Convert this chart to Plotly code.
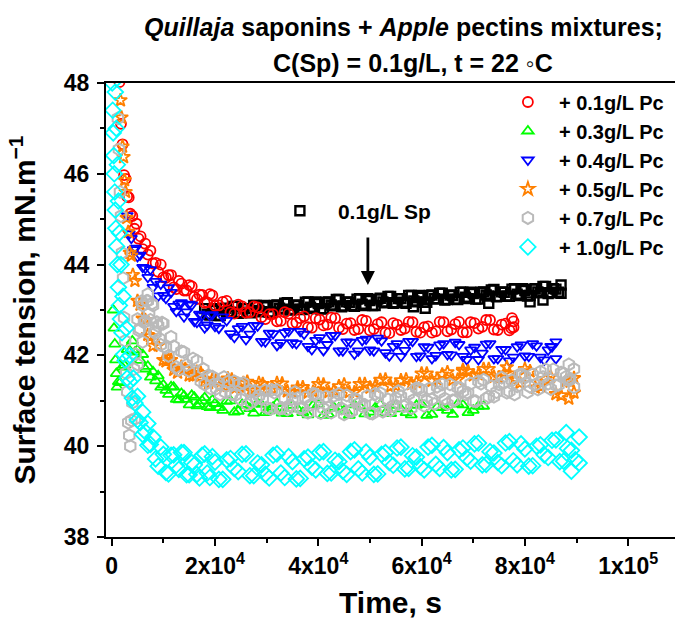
import plotly.graph_objects as go

# ---------------- data ----------------
sp_x = [18000, 19000, 20000, 21000, 22000, 23000, 24000, 25000, 26000, 27000,
        28000, 29000, 30000, 31000, 32000, 33000, 34000, 35000, 36000, 37000,
        38000, 39000, 40000, 41000, 42000, 43000, 44000, 45000, 46000, 47000,
        48000, 49000, 50000, 51000, 52000, 53000, 54000, 55000, 56000, 57000,
        58000, 59000, 60000, 61000, 62000, 63000, 64000, 65000, 66000, 67000,
        68000, 69000, 70000, 71000, 72000, 73000, 74000, 75000, 76000, 77000,
        78000, 79000, 80000, 81000, 82000, 83000, 84000, 85000, 86000, 87000,
        58400, 60700, 73000, 81000, 83500, 87000]
sp_y = [43.03, 42.89, 42.99, 42.88, 43.04, 42.95, 43.08, 42.94, 43.03, 42.94,
        43.10, 42.96, 43.07, 42.95, 43.11, 43.02, 43.16, 43.01, 43.10, 43.01,
        43.18, 43.03, 43.14, 43.03, 43.18, 43.09, 43.23, 43.09, 43.17, 43.08,
        43.25, 43.10, 43.21, 43.10, 43.26, 43.16, 43.30, 43.16, 43.25, 43.15,
        43.32, 43.18, 43.28, 43.17, 43.33, 43.24, 43.37, 43.23, 43.32, 43.23,
        43.39, 43.25, 43.36, 43.24, 43.40, 43.31, 43.45, 43.30, 43.39, 43.30,
        43.47, 43.32, 43.43, 43.32, 43.47, 43.38, 43.52, 43.38, 43.46, 43.37,
        43.07, 43.04, 43.15, 43.18, 43.22, 43.55]
sp_x2 = [18500, 19500, 20500, 21500, 22500, 23500, 24500, 25500, 26500, 27500,
         28500, 29500, 30500, 31500, 32500, 33500, 34500, 35500, 36500, 37500,
         38500, 39500, 40500, 41500, 42500, 43500, 44500, 45500, 46500, 47500,
         48500, 49500, 50500, 51500, 52500, 53500, 54500, 55500, 56500, 57500,
         58500, 59500, 60500, 61500, 62500, 63500, 64500, 65500, 66500, 67500,
         68500, 69500, 70500, 71500, 72500, 73500, 74500, 75500, 76500, 77500,
         78500, 79500, 80500, 81500, 82500, 83500, 84500, 85500, 86500]
sp_y2 = [42.91, 43.03, 42.88, 43.03, 42.96, 43.08, 42.93, 43.03, 42.95, 43.10,
         42.99, 43.10, 42.95, 43.10, 43.04, 43.15, 43.00, 43.11, 43.02, 43.17,
         43.06, 43.18, 43.02, 43.17, 43.11, 43.23, 43.07, 43.18, 43.10, 43.24,
         43.13, 43.25, 43.10, 43.24, 43.18, 43.30, 43.15, 43.25, 43.17, 43.32,
         43.20, 43.32, 43.17, 43.32, 43.25, 43.37, 43.22, 43.33, 43.24, 43.39,
         43.28, 43.39, 43.24, 43.39, 43.33, 43.44, 43.29, 43.40, 43.31, 43.46,
         43.35, 43.47, 43.31, 43.46, 43.40, 43.52, 43.36, 43.47, 43.39]

pc01_x = [1500, 1800, 2100, 2400, 2700, 3000, 3300, 3600, 4000, 4400,
          4800, 5200, 5600, 6000, 6500, 7000, 7500, 8000, 8500, 9000,
          9500, 10000, 11000, 12000, 13000, 14000, 15000, 16000, 17000, 18000,
          19000, 20000, 21500, 23000, 24500, 26000, 27500, 29000, 30500, 32000,
          33500, 35000, 36500, 38000, 39500, 41000, 42500, 44000, 45500, 47000,
          48500, 50000, 51500, 53000, 54500, 56000, 57500, 59000, 60500, 62000,
          63500, 65000, 66500, 68000, 69500, 71000, 72500, 74000, 75500, 77000,
          77800, 77800, 77500]
pc01_y = [48.02, 47.10, 46.65, 45.97, 45.89, 45.50, 45.48, 45.12, 45.07, 44.79,
          44.90, 44.57, 44.62, 44.34, 44.46, 44.22, 44.31, 44.02, 44.04, 43.84,
          44.00, 43.72, 43.77, 43.50, 43.64, 43.43, 43.55, 43.29, 43.34, 43.16,
          43.35, 43.09, 43.18, 42.95, 43.12, 42.94, 43.08, 42.84, 42.91, 42.75,
          42.95, 42.70, 42.82, 42.62, 42.82, 42.66, 42.83, 42.61, 42.70, 42.56,
          42.78, 42.55, 42.69, 42.50, 42.71, 42.56, 42.74, 42.52, 42.62, 42.50,
          42.74, 42.53, 42.69, 42.51, 42.73, 42.59, 42.78, 42.57, 42.68, 42.55,
          42.75, 42.62, 42.82]
pc01_x2 = [10500, 11500, 12500, 13500, 14500, 15500, 16500, 17500, 18500, 19500,
           20750, 22250, 23750, 25250, 26750, 28250, 29750, 31250, 32750, 34250,
           35750, 37250, 38750, 40250, 41750, 43250, 44750, 46250, 47750, 49250,
           50750, 52250, 53750, 55250, 56750, 58250, 59750, 61250, 62750, 64250,
           65750, 67250, 68750, 70250, 71750, 73250, 74750, 76250, 77400]
pc01_y2 = [43.71, 43.77, 43.46, 43.58, 43.43, 43.52, 43.24, 43.33, 43.17, 43.32,
           43.10, 43.20, 42.92, 43.08, 42.95, 43.06, 42.80, 42.91, 42.76, 42.92,
           42.72, 42.86, 42.61, 42.79, 42.68, 42.82, 42.58, 42.71, 42.58, 42.76,
           42.58, 42.73, 42.49, 42.68, 42.59, 42.73, 42.50, 42.64, 42.53, 42.73,
           42.57, 42.74, 42.51, 42.71, 42.63, 42.78, 42.56, 42.70, 42.60]

pc03_x = [300, 450, 600, 750, 900, 1050, 1300, 1600, 2000, 2500,
          3000, 3500, 4000, 4500, 5000, 5500, 6000, 6500, 7000, 7500,
          8000, 8500, 9000, 9500, 10000, 11000, 12000, 13000, 14000, 15000,
          16000, 17000, 18000, 19000, 20000, 21500, 23000, 24500, 26000, 27500,
          29000, 30500, 32000, 34000, 36000, 38000, 40000, 42000, 44000, 46000,
          48000, 50000, 52000, 54000, 56000, 58000, 60000, 62000, 64000, 66000,
          68000, 70000, 72000]
pc03_y = [43.00, 42.60, 42.25, 41.90, 41.60, 41.30, 41.42, 41.40, 41.74, 41.78,
          42.13, 42.10, 42.32, 42.07, 42.12, 41.89, 42.02, 41.70, 41.76, 41.52,
          41.64, 41.44, 41.55, 41.30, 41.35, 41.14, 41.30, 41.02, 41.11, 40.91,
          41.08, 40.92, 41.07, 40.85, 40.94, 40.79, 41.00, 40.77, 40.90, 40.73,
          40.92, 40.78, 40.94, 40.72, 40.82, 40.69, 40.92, 40.70, 40.84, 40.68,
          40.88, 40.75, 40.92, 40.72, 40.82, 40.69, 40.92, 40.70, 40.85, 40.70,
          40.91, 40.79, 40.88]
pc03_x2 = [10500, 11500, 12500, 13500, 14500, 15500, 16500, 17500, 18500, 19500,
           20750, 22250, 23750, 25250, 26750, 28250, 29750, 31250, 33000, 35000,
           37000, 39000, 41000, 43000, 45000, 47000, 49000, 51000, 53000, 55000,
           57000, 59000, 61000, 63000, 65000, 67000, 69000, 71000]
pc03_y2 = [41.23, 41.31, 41.03, 41.16, 41.03, 41.12, 40.89, 41.00, 40.87, 41.02,
           40.85, 40.99, 40.75, 40.92, 40.83, 40.95, 40.74, 40.86, 40.73, 40.90,
           40.74, 40.90, 40.68, 40.86, 40.78, 40.91, 40.71, 40.84, 40.73, 40.90,
           40.74, 40.90, 40.68, 40.86, 40.79, 40.93, 40.74, 40.88]

pc04_x = [3000, 3400, 3800, 4200, 4600, 5000, 5500, 6000, 6500, 7000,
          7500, 8000, 8500, 9000, 9500, 10000, 11000, 12000, 13000, 14000,
          15000, 16000, 17000, 18000, 19000, 20000, 21500, 23000, 24500, 26000,
          27500, 29000, 30500, 32000, 33500, 35000, 36500, 38000, 39500, 41000,
          42500, 44000, 45500, 47000, 48500, 50000, 51500, 53000, 54500, 56000,
          57500, 59000, 60500, 62000, 63500, 65000, 66500, 68000, 69500, 71000,
          72500, 74000, 75500, 77000, 78500, 80000, 81500, 83000, 84500, 86000,
          86000, 85000]
pc04_y = [45.08, 44.68, 44.58, 44.33, 44.36, 44.18, 44.21, 43.94, 43.92, 43.72,
          43.89, 43.50, 43.63, 43.31, 43.57, 43.32, 43.49, 43.08, 43.13, 42.85,
          43.13, 42.75, 42.91, 42.61, 42.88, 42.64, 42.85, 42.48, 42.59, 42.35,
          42.66, 42.31, 42.49, 42.22, 42.50, 42.28, 42.53, 42.20, 42.33, 42.11,
          42.44, 42.10, 42.30, 42.03, 42.33, 42.12, 42.38, 42.06, 42.20, 41.98,
          42.31, 41.98, 42.19, 41.93, 42.23, 42.02, 42.29, 41.98, 42.12, 41.91,
          42.25, 41.93, 42.13, 41.88, 42.19, 41.99, 42.26, 41.96, 42.12, 41.93,
          42.30, 42.20]
pc04_x2 = [10500, 11500, 12500, 13500, 14500, 15500, 16500, 17500, 18500, 19500,
           20750, 22250, 23750, 25250, 26750, 28250, 29750, 31250, 32750, 34250,
           35750, 37250, 38750, 40250, 41750, 43250, 44750, 46250, 47750, 49250,
           50750, 52250, 53750, 55250, 56750, 58250, 59750, 61250, 62750, 64250,
           65750, 67250, 68750, 70250, 71750, 73250, 74750, 76250, 77750, 79250,
           80750, 82250, 83750, 85250]
pc04_y2 = [43.26, 43.39, 42.97, 43.16, 42.96, 43.11, 42.73, 42.88, 42.67, 42.90,
           42.60, 42.77, 42.40, 42.64, 42.47, 42.65, 42.30, 42.48, 42.28, 42.53,
           42.26, 42.47, 42.13, 42.39, 42.24, 42.44, 42.10, 42.29, 42.10, 42.36,
           42.10, 42.32, 41.99, 42.26, 42.11, 42.31, 41.99, 42.18, 42.00, 42.26,
           42.01, 42.24, 41.91, 42.18, 42.05, 42.26, 41.93, 42.13, 41.96, 42.23,
           41.98, 42.21, 41.90, 42.19]

pc05_x = [1500, 1700, 1900, 2100, 2300, 2500, 2700, 2900, 3200, 3500,
          3800, 4100, 4500, 5000, 5500, 6000, 6500, 7000, 7500, 8000,
          9000, 10000, 11000, 12000, 13500, 15000, 16500, 18000, 19500, 21000,
          22500, 24000, 25500, 27000, 28500, 30000, 32000, 34000, 36000, 38000,
          40000, 42000, 44000, 46000, 48000, 50000, 52000, 54000, 56000, 58000,
          60000, 62000, 64000, 66000, 68000, 70000, 72000, 74000, 76000, 78000,
          80000, 82000, 84000, 86000, 88000, 89500,
          88500, 89500, 68000, 76500]
pc05_y = [48.40, 47.62, 47.24, 46.60, 46.37, 45.86, 45.60, 45.03, 44.72, 44.26,
          44.20, 43.77, 43.64, 43.20, 43.12, 42.81, 42.78, 42.45, 42.42, 42.21,
          42.22, 41.90, 41.91, 41.68, 41.75, 41.56, 41.64, 41.42, 41.47, 41.33,
          41.49, 41.29, 41.39, 41.23, 41.39, 41.26, 41.39, 41.21, 41.29, 41.18,
          41.37, 41.19, 41.32, 41.19, 41.37, 41.29, 41.46, 41.32, 41.45, 41.37,
          41.60, 41.44, 41.58, 41.46, 41.65, 41.56, 41.70, 41.53, 41.60, 41.47,
          41.70, 41.29, 41.48, 41.15, 41.44, 41.18,
          41.05, 41.50, 41.68, 41.74]
pc05_x2 = [10500, 11500, 12750, 14250, 15750, 17250, 18750, 20250, 21750, 23250,
           24750, 26250, 27750, 29250, 31000, 33000, 35000, 37000, 39000, 41000,
           43000, 45000, 47000, 49000, 51000, 53000, 55000, 57000, 59000, 61000,
           63000, 65000, 67000, 69000, 71000, 73000, 75000, 77000, 79000, 81000,
           83000, 85000, 87000, 88750]
pc05_y2 = [41.87, 41.90, 41.62, 41.70, 41.55, 41.61, 41.39, 41.46, 41.33, 41.47,
           41.31, 41.42, 41.22, 41.37, 41.27, 41.38, 41.19, 41.30, 41.20, 41.36,
           41.22, 41.36, 41.19, 41.37, 41.32, 41.47, 41.33, 41.47, 41.41, 41.60,
           41.48, 41.63, 41.47, 41.65, 41.58, 41.70, 41.51, 41.60, 41.39, 41.65,
           41.32, 41.53, 41.12, 41.42]

pc07_x = [1000, 1200, 1400, 1600, 1800, 2000, 2200, 2400, 2600, 2800,
          3000, 3200, 3400, 3600, 3800, 4000, 4300, 4600, 5000, 5500,
          6000, 6500, 7000, 7500, 8000, 8500, 9000, 9500, 10000, 11000,
          12000, 13000, 14000, 15000, 16500, 18000, 19500, 21000, 22500, 24000,
          25500, 27000, 28500, 30000, 32000, 34000, 36000, 38000, 40000, 42000,
          44000, 46000, 48000, 50000, 52000, 54000, 56000, 58000, 60000, 62000,
          64000, 66000, 68000, 70000, 72000, 74000, 76000, 78000, 80000, 82000,
          84000, 86000, 88000, 89500,
          89500, 88500, 7000, 6000, 5000, 4500]
pc07_y = [48.30, 47.22, 46.54, 45.60, 45.07, 44.26, 43.70, 42.83, 42.32, 41.61,
          41.20, 40.52, 40.24, 40.00, 40.57, 40.96, 41.70, 42.03, 42.80, 42.59,
          43.10, 42.75, 43.20, 42.78, 43.10, 42.49, 42.65, 42.23, 42.70, 41.99,
          42.20, 41.68, 42.07, 41.66, 41.88, 41.36, 41.53, 41.14, 41.42, 41.13,
          41.39, 40.97, 41.11, 40.85, 41.24, 40.81, 41.06, 40.74, 41.09, 40.85,
          41.15, 40.77, 40.95, 40.73, 41.17, 40.79, 41.10, 40.84, 41.24, 41.03,
          41.36, 41.01, 41.21, 41.00, 41.46, 41.09, 41.40, 41.14, 41.54, 41.35,
          41.69, 41.34, 41.53, 41.30,
          41.70, 41.80, 43.35, 42.30, 41.80, 40.60]
pc07_x2 = [5250, 5750, 6250, 6750, 7250, 7750, 8250, 8750, 9250, 9750,
           10500, 11500, 12500, 13500, 14500, 15750, 17250, 18750, 20250, 21750,
           23250, 24750, 26250, 27750, 29250, 31000, 33000, 35000, 37000, 39000,
           41000, 43000, 45000, 47000, 49000, 51000, 53000, 55000, 57000, 59000,
           61000, 63000, 65000, 67000, 69000, 71000, 73000, 75000, 77000, 79000,
           81000, 83000, 85000, 87000, 88750]
pc07_y2 = [42.55, 43.19, 42.73, 43.20, 42.92, 43.14, 42.52, 42.73, 42.37, 42.72,
           42.17, 42.41, 41.74, 42.09, 41.79, 41.93, 41.43, 41.56, 41.27, 41.52,
           41.14, 41.37, 40.92, 41.22, 41.04, 41.24, 40.84, 41.05, 40.84, 41.16,
           40.83, 41.11, 40.70, 41.04, 40.91, 41.15, 40.80, 41.06, 40.91, 41.28,
           41.00, 41.31, 40.93, 41.29, 41.17, 41.43, 41.09, 41.36, 41.21, 41.58,
           41.31, 41.64, 41.26, 41.62, 41.48]
pc07_x3 = [17750, 19250, 20750, 22000, 23750, 25000, 26750, 28000, 29750, 30750,
           31500, 32500, 33500, 34500, 35500, 36500, 37500, 38500, 39500, 40500,
           41500, 42500, 43500, 44500, 45500, 46500, 47500, 48500, 49500, 50500,
           51500, 52500, 53500, 54500, 55500, 56500, 57500, 58500, 59500, 60500,
           61500, 62500, 63500, 64500, 65500, 66500, 67500, 68500, 69500, 70500,
           71500, 72500, 73500, 74500, 75500, 76500, 77500, 78500, 79500, 80500,
           81500, 82500, 83500, 84500, 85500, 86500, 87500, 88500]
pc07_y3 = [41.70, 41.27, 41.39, 41.19, 41.43, 41.03, 41.23, 41.05, 41.23, 40.82,
           41.18, 40.82, 41.06, 40.90, 41.19, 40.83, 41.07, 40.91, 41.14, 40.73,
           41.09, 40.74, 40.98, 40.83, 41.12, 40.77, 41.02, 40.88, 41.11, 40.72,
           41.10, 40.76, 41.03, 40.89, 41.21, 40.88, 41.15, 41.02, 41.27, 40.89,
           41.27, 40.93, 41.19, 41.05, 41.36, 41.02, 41.28, 41.14, 41.38, 40.99,
           41.38, 41.05, 41.32, 41.19, 41.51, 41.18, 41.45, 41.32, 41.57, 41.19,
           41.58, 41.25, 41.52, 41.38, 41.69, 41.35, 41.60, 41.45]

pc10_x = [0, 100, 200, 300, 400, 500, 600, 700, 800, 950,
          1100, 1300, 1500, 1700, 2000, 2300, 2600, 3000, 3500, 4000,
          4500, 5000, 5500, 6000, 6500, 7000, 7500, 8000, 9000, 10000,
          11000, 12000, 13000, 14000, 15000, 16000, 17000, 18000, 19000, 20000,
          21500, 23000, 24500, 26000, 27500, 29000, 30500, 32000, 33500, 35000,
          36500, 38000, 39500, 41000, 42500, 44000, 45500, 47000, 48500, 50000,
          51500, 53000, 54500, 56000, 57500, 59000, 60500, 62000, 63500, 65000,
          66500, 68000, 69500, 71000, 72500, 74000, 75500, 77000, 78500, 80000,
          81500, 83000, 84500, 86000, 87500, 89000, 90500,
          90500, 89000, 88000, 700, 900, 1100, 1300, 1500, 1800, 2200,
          2800, 3500, 4200, 5000, 6000, 7000]
pc10_y = [48.60, 48.00, 47.40, 46.90, 46.40, 46.00, 45.60, 45.20, 44.80, 44.40,
          44.00, 43.50, 43.10, 42.80, 42.50, 42.02, 41.89, 41.50, 41.42, 41.06,
          40.95, 40.58, 40.52, 40.26, 40.32, 40.02, 40.04, 40.20, 39.56, 39.82,
          39.39, 39.81, 39.49, 39.86, 39.37, 39.59, 39.30, 39.83, 39.31, 39.65,
          39.27, 39.73, 39.44, 39.83, 39.35, 39.59, 39.30, 39.83, 39.31, 39.66,
          39.29, 39.76, 39.48, 39.88, 39.41, 39.66, 39.38, 39.92, 39.41, 39.76,
          39.39, 39.86, 39.58, 39.98, 39.51, 39.76, 39.48, 40.02, 39.51, 39.86,
          39.49, 39.96, 39.67, 40.07, 39.60, 39.85, 39.57, 40.10, 39.59, 39.94,
          39.57, 40.03, 39.75, 40.14, 39.67, 39.91, 39.63,
          40.20, 39.45, 40.30, 47.80, 47.00, 46.20, 45.40, 44.70, 44.00, 43.30,
          42.60, 42.00, 41.50, 41.10, 40.75, 40.50]
pc10_x2 = [8500, 9500, 10500, 11500, 12500, 13500, 14500, 15500, 16500, 17500,
           18500, 19500, 20750, 22250, 23750, 25250, 26750, 28250, 29750, 31250,
           32750, 34250, 35750, 37250, 38750, 40250, 41750, 43250, 44750, 46250,
           47750, 49250, 50750, 52250, 53750, 55250, 56750, 58250, 59750, 61250,
           62750, 64250, 65750, 67250, 68750, 70250, 71750, 73250, 74750, 76250,
           77750, 79250, 80750, 82250, 83750, 85250, 86750, 88250, 89750]
pc10_y2 = [39.72, 39.98, 39.42, 39.80, 39.58, 39.86, 39.37, 39.64, 39.38, 39.80,
           39.41, 39.77, 39.27, 39.70, 39.51, 39.82, 39.35, 39.63, 39.38, 39.80,
           39.41, 39.77, 39.28, 39.72, 39.54, 39.86, 39.40, 39.69, 39.45, 39.88,
           39.50, 39.87, 39.38, 39.82, 39.64, 39.96, 39.50, 39.79, 39.55, 39.98,
           39.60, 39.97, 39.48, 39.92, 39.74, 40.05, 39.59, 39.88, 39.64, 40.07,
           39.68, 40.05, 39.56, 40.00, 39.81, 40.13, 39.66, 39.95, 39.70]

x_tickvals = [0, 20000, 40000, 60000, 80000, 100000]
x_ticktext = ["0", "2x10<sup>4</sup>", "4x10<sup>4</sup>", "6x10<sup>4</sup>",
              "8x10<sup>4</sup>", "1x10<sup>5</sup>"]
y_tickvals = [38, 40, 42, 44, 46, 48]

series = [
    ("+ 0.1g/L Pc", pc01_x + pc01_x2, pc01_y + pc01_y2, "circle-open", 10, "#FF0000", 1.8),
    ("+ 0.3g/L Pc", pc03_x + pc03_x2, pc03_y + pc03_y2, "triangle-up-open", 10, "#00FF00", 1.8),
    ("+ 0.4g/L Pc", pc04_x + pc04_x2, pc04_y + pc04_y2, "triangle-down-open", 10, "#0000FF", 1.8),
    ("+ 0.5g/L Pc", pc05_x + pc05_x2, pc05_y + pc05_y2, "star-open", 10, "#FF8000", 1.8),
    ("+ 0.7g/L Pc", pc07_x + pc07_x2 + pc07_x3, pc07_y + pc07_y2 + pc07_y3,
     "hexagon-open", 12, "#BABABA", 2.0),
    ("+ 1.0g/L Pc", pc10_x + pc10_x2, pc10_y + pc10_y2, "diamond-open", 12, "#00FFFF", 1.8),
]

for nm, xs, ys in [("sp", sp_x, sp_y), ("sp2", sp_x2, sp_y2),
                   ("g3", pc07_x3, pc07_y3)] + [s[:3] for s in series]:
    assert len(xs) == len(ys), (nm, len(xs), len(ys))

FONT = "Liberation Sans, Arial, sans-serif"

fig = go.Figure()
fig.add_trace(go.Scatter(
    x=sp_x + sp_x2, y=sp_y + sp_y2, mode="markers", name="0.1g/L Sp", legend="legend2",
    marker=dict(symbol="square-open", size=9, color="#000000", line=dict(width=2.4)),
))
for name, xs, ys, sym, size, col, lw in series:
    fig.add_trace(go.Scatter(
        x=xs, y=ys, mode="markers", name=name,
        marker=dict(symbol=sym, size=size, color=col, line=dict(width=lw)),
    ))

axis_common = dict(
    showline=True, linewidth=2, linecolor="black",
    ticks="outside", ticklen=7, tickwidth=2, tickcolor="black",
    showgrid=False, zeroline=False,
    tickfont=dict(family=FONT, size=23, color="black", weight="bold"),
)

fig.update_xaxes(
    **axis_common, range=[-1100, 109060], mirror=True,
    tickmode="array", tickvals=x_tickvals, ticktext=x_ticktext,
    minor=dict(ticks="outside", ticklen=4, tickwidth=2, tickcolor="black",
               tickmode="linear", tick0=0, dtick=10000, showgrid=False),
    title=dict(text="Time, s", standoff=14,
               font=dict(family=FONT, size=30, color="black", weight="bold")),
)
fig.update_yaxes(
    **axis_common, range=[38, 48], mirror=False,
    tickmode="array", tickvals=y_tickvals, ticklabelstandoff=3,
    minor=dict(ticks="outside", ticklen=4, tickwidth=2, tickcolor="black",
               tickmode="linear", tick0=38, dtick=1, showgrid=False),
    title=dict(text="Surface tension, mN.m<sup>\u22121</sup>", standoff=19,
               font=dict(family=FONT, size=30, color="black", weight="bold")),
)

fig.update_layout(
    width=675, height=625,
    margin=dict(l=106, r=0, t=83, b=88),
    paper_bgcolor="white", plot_bgcolor="white",
    font=dict(family=FONT, color="black"),
    legend=dict(x=0.687, y=0.7985, xanchor="left", yanchor="middle",
                font=dict(family=FONT, size=20, color="black", weight="bold"),
                itemwidth=52, bgcolor="rgba(0,0,0,0)", tracegroupgap=0),
    legend2=dict(x=0.274, y=0.718, xanchor="left", yanchor="middle",
                 font=dict(family=FONT, size=21, color="black", weight="bold"),
                 itemwidth=66, bgcolor="rgba(0,0,0,0)"),
    annotations=[
        dict(text="<i>Quillaja</i> saponins + <i>Apple</i> pectins mixtures;",
             xref="paper", yref="paper", x=0.522, y=1.123, showarrow=False,
             xanchor="center", yanchor="middle",
             font=dict(family=FONT, size=25, color="black", weight="bold")),
        dict(text="C(Sp) = 0.1g/L, t = 22 \u25e6C",
             xref="paper", yref="paper", x=0.5396, y=1.044, showarrow=False,
             xanchor="center", yanchor="middle",
             font=dict(family=FONT, size=25, color="black", weight="bold")),
        dict(x=49600, y=43.55, xref="x", yref="y", ax=0, ay=-49, text="",
             showarrow=True, arrowhead=2, arrowsize=1.0, arrowwidth=2.8,
             arrowcolor="black"),
    ],
)

fig.write_html("out.html")
